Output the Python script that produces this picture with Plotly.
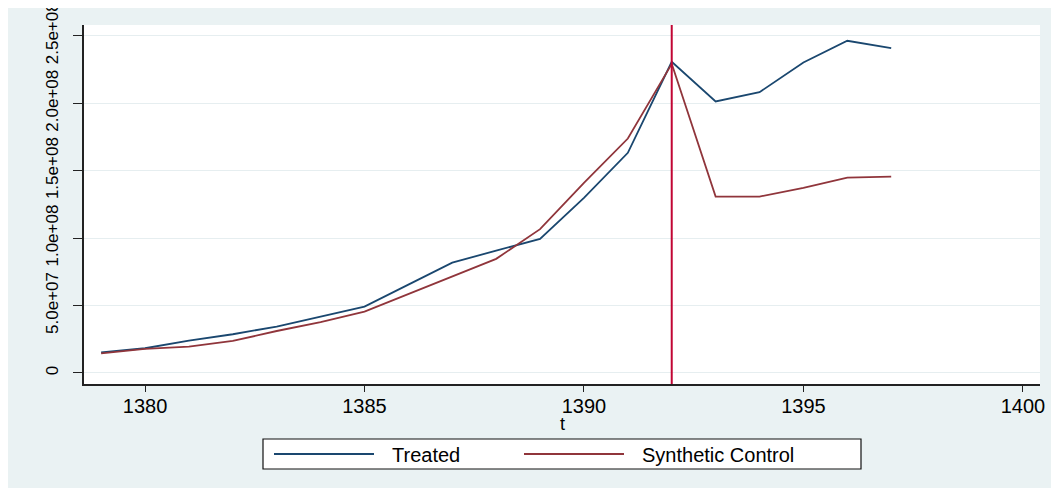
import plotly.graph_objects as go

# ---- data ----
years = list(range(1379, 1398))
treated = [1.53e7, 1.83e7, 2.40e7, 2.87e7, 3.44e7, 4.18e7, 4.92e7, 6.55e7, 8.18e7, 9.07e7,
           9.94e7, 1.298e8, 1.632e8, 2.307e8, 2.013e8, 2.082e8, 2.302e8, 2.463e8, 2.409e8]
synthetic = [1.45e7, 1.78e7, 1.95e7, 2.37e7, 3.11e7, 3.76e7, 4.55e7, 5.86e7, 7.20e7, 8.46e7,
             1.066e8, 1.410e8, 1.738e8, 2.292e8, 1.308e8, 1.308e8, 1.372e8, 1.449e8, 1.456e8]
treat_year = 1392
series_names = ["Treated", "Synthetic Control"]
x_ticks = [1380, 1385, 1390, 1395, 1400]
y_ticks = [0, 5e7, 1e8, 1.5e8, 2e8, 2.5e8]
y_tick_labels = ["0", "5.0e+07", "1.0e+08", "1.5e+08", "2.0e+08", "2.5e+08"]

# ---- style ----
OFF = 8                      # page body margin
W, H = 1059 - OFF, 488 - OFF
L, R, T, B = 76, 19, 17, 104
PW, PH = W - L - R, H - T - B
BG = "#EAF2F3"
BLUE = "#1a476f"
RED = "#90353b"
VLINE = "#c10534"
FONT = "Liberation Sans, Arial, sans-serif"


def px_x(px):  # page pixel -> paper x
    return (px - OFF - L) / PW


def px_y(py):  # page pixel -> paper y
    return (H - B - (py - OFF)) / PH


fig = go.Figure()
fig.add_trace(go.Scatter(x=years, y=treated, mode="lines", name=series_names[0],
                         line=dict(color=BLUE, width=1.8), showlegend=False))
fig.add_trace(go.Scatter(x=years, y=synthetic, mode="lines", name=series_names[1],
                         line=dict(color=RED, width=1.8), showlegend=False))

shapes = [
    # intervention line
    dict(type="line", xref="x", yref="paper", x0=treat_year, x1=treat_year, y0=0, y1=1,
         line=dict(color=VLINE, width=2), layer="above"),
    # legend box
    dict(type="rect", xref="paper", yref="paper", x0=px_x(263), x1=px_x(861), y0=px_y(469), y1=px_y(439),
         fillcolor="white", line=dict(color="#111", width=1.2), layer="above"),
    dict(type="line", xref="paper", yref="paper", x0=px_x(274), x1=px_x(374), y0=px_y(454), y1=px_y(454),
         line=dict(color=BLUE, width=1.8), layer="above"),
    dict(type="line", xref="paper", yref="paper", x0=px_x(524), x1=px_x(624), y0=px_y(454), y1=px_y(454),
         line=dict(color=RED, width=1.8), layer="above"),
]

annotations = [
    dict(text=series_names[0], xref="paper", yref="paper", x=px_x(390), y=px_y(455),
         xanchor="left", yanchor="middle", showarrow=False, font=dict(family=FONT, size=20, color="black")),
    dict(text=series_names[1], xref="paper", yref="paper", x=px_x(640), y=px_y(455),
         xanchor="left", yanchor="middle", showarrow=False, font=dict(family=FONT, size=20, color="black")),
    dict(text="t", xref="paper", yref="paper", x=0.5, y=px_y(424),
         xanchor="center", yanchor="middle", showarrow=False, font=dict(family=FONT, size=18, color="black")),
]

fig.update_layout(
    width=W, height=H, autosize=False,
    margin=dict(l=L, r=R, t=T, b=B, pad=0, autoexpand=False),
    paper_bgcolor=BG, plot_bgcolor="white",
    font=dict(family=FONT, color="black"),
    shapes=shapes, annotations=annotations,
    showlegend=False,
    xaxis=dict(range=[1378.61, 1400.39], tickvals=x_ticks, ticks="outside", ticklen=6, tickwidth=1.2,
               tickcolor="#222", showline=True, linecolor="#222", linewidth=1.5, showgrid=False,
               zeroline=False, tickfont=dict(family=FONT, size=20), automargin=False,
               ticklabelstandoff=-3, ticklabeloverflow="allow"),
    yaxis=dict(range=[-8.2e6, 2.58e8], tickvals=y_ticks, ticktext=y_tick_labels, tickangle=-90,
               ticks="outside", ticklen=9, tickwidth=1.2, tickcolor="#222", showline=True,
               linecolor="#222", linewidth=1.5, showgrid=True, gridcolor="#E6EEF0", gridwidth=1.2,
               zeroline=False, tickfont=dict(family=FONT, size=17), automargin=False,
               ticklabelstandoff=8, ticklabeloverflow="allow"),
)

fig.write_html("out.html")
